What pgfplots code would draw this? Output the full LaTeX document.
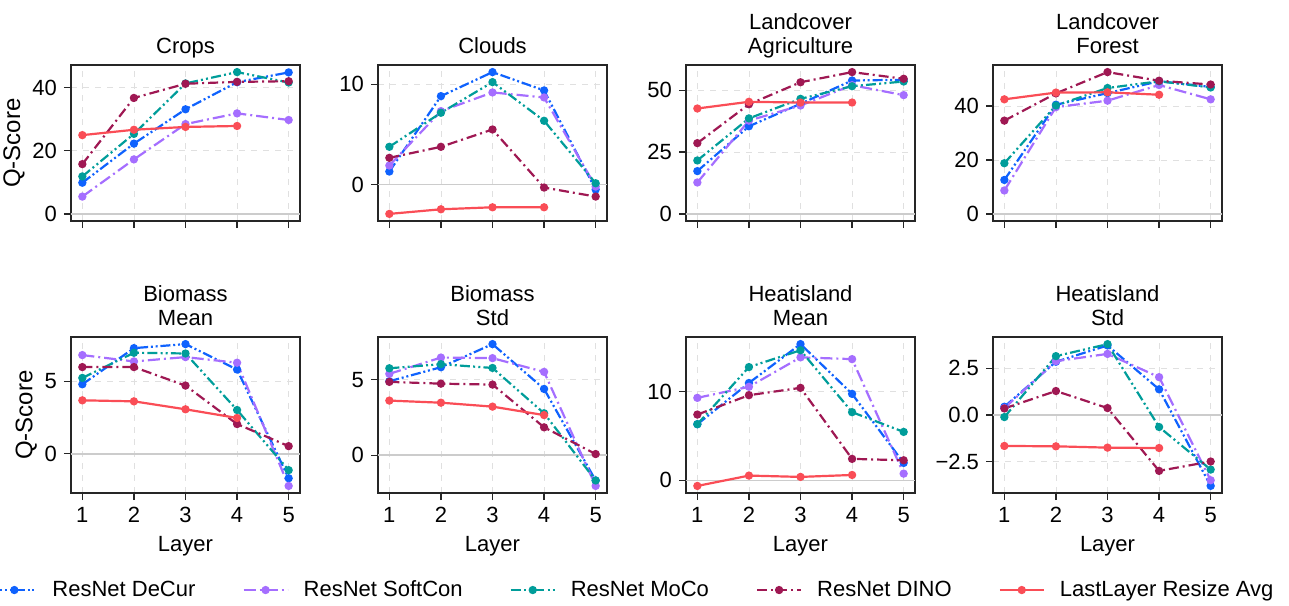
\documentclass[border=0pt]{standalone}
\usepackage{pgfplots}
\pgfplotsset{compat=1.18}
\usepackage{fontspec}
\setmainfont{Liberation Sans}
\definecolor{cDeCur}{HTML}{0F62FE}
\definecolor{cSoft}{HTML}{A56EFF}
\definecolor{cMoCo}{HTML}{009D9A}
\definecolor{cDINO}{HTML}{9F1853}
\definecolor{cLast}{HTML}{FA4D56}
\pgfplotsset{
  sdecur/.style={color=cDeCur, line width=1.1pt, dash pattern=on 5pt off 1.4pt on 1pt off 1.4pt on 1pt off 1.4pt, mark=*, mark size=1.5pt, mark options={solid}},
  ssoft/.style={color=cSoft, line width=1.1pt, dash pattern=on 6pt off 2pt on 1pt off 2pt, mark=*, mark size=1.5pt, mark options={solid}},
  smoco/.style={color=cMoCo, line width=1.1pt, dash pattern=on 5pt off 1.6pt on 1pt off 1.6pt on 1pt off 1.6pt, mark=*, mark size=1.5pt, mark options={solid}},
  sdino/.style={color=cDINO, line width=1.1pt, dash pattern=on 5pt off 2pt on 1pt off 2pt, mark=*, mark size=1.5pt, mark options={solid}},
  slast/.style={color=cLast, line width=1.1pt, solid, mark=*, mark size=1.5pt},
  myax/.style={scale only axis, width=114.5pt, height=78pt, anchor=north west,
    xmin=0.78, xmax=5.22, xtick={1,2,3,4,5},
    grid=major, grid style={dashed, black!12, line width=0.4pt},
    axis line style={black!85, line width=0.6pt},
    tick style={black!85, line width=0.6pt},
    tick align=outside, tick pos=left, major tick length=3.5pt,
    /pgf/number format/assume math mode=true,
    every axis title shift=0pt,
    title style={at={(0.5,1)}, anchor=south, yshift=-1.2pt, align=center, font=\fontsize{11}{12}\selectfont},
    ylabel style={font=\fontsize{12}{14}\selectfont}, ylabel shift=-3pt,
    legend image code/.code={\draw[mark repeat=2,mark phase=2] plot coordinates {(0pt,0pt) (11pt,0pt) (22pt,0pt)};},
  },
}
\newcommand{\zeroline}{\draw[black!20, line width=0.7pt] ({rel axis cs:0,0}|-{axis cs:1,0}) -- ({rel axis cs:1,0}|-{axis cs:1,0});}
\begin{document}
\begin{tikzpicture}[font=\fontsize{11}{13}\selectfont]
\useasboundingbox (0,0) rectangle (644.5pt,-302.5pt);
% Crops
\begin{axis}[myax, at={(35.5pt,-32.5pt)}, title={Crops\strut}, ymin=-2.25, ymax=47.25, ytick={0,20,40}, xticklabels={,,,,}, ylabel={Q-Score}]
\zeroline
\addplot[sdecur] coordinates {(1,9.9) (2,22.3) (3,33.2) (4,41.8) (5,44.9)};
\addplot[ssoft] coordinates {(1,5.5) (2,17.3) (3,28.5) (4,31.9) (5,29.8)};
\addplot[smoco] coordinates {(1,11.9) (2,25.4) (3,41.4) (4,45.0) (5,41.7)};
\addplot[sdino] coordinates {(1,15.8) (2,36.8) (3,41.3) (4,41.9) (5,42.1)};
\addplot[slast] coordinates {(1,25.0) (2,26.7) (3,27.6) (4,27.9)};
\end{axis}
% Clouds
\begin{axis}[myax, at={(189pt,-32.5pt)}, title={Clouds\strut}, ymin=-3.64, ymax=11.94, ytick={0,10}, xticklabels={,,,,}]
\zeroline
\addplot[sdecur] coordinates {(1,1.3) (2,8.83) (3,11.23) (4,9.4) (5,-0.5)};
\addplot[ssoft] coordinates {(1,1.9) (2,7.33) (3,9.2) (4,8.7) (5,-0.2)};
\addplot[smoco] coordinates {(1,3.77) (2,7.17) (3,10.23) (4,6.37) (5,0.13)};
\addplot[sdino] coordinates {(1,2.67) (2,3.77) (3,5.5) (4,-0.3) (5,-1.2)};
\addplot[slast] coordinates {(1,-2.93) (2,-2.47) (3,-2.27) (4,-2.27)};
\end{axis}
% Landcover Agriculture
\begin{axis}[myax, at={(343pt,-32.5pt)}, title={Landcover\\Agriculture\strut}, ymin=-2.87, ymax=60.17, ytick={0,25,50}, xticklabels={,,,,}]
\zeroline
\addplot[sdecur] coordinates {(1,17.3) (2,35.4) (3,44.5) (4,53.9) (5,54.2)};
\addplot[ssoft] coordinates {(1,12.7) (2,37.7) (3,43.8) (4,52.0) (5,48.0)};
\addplot[smoco] coordinates {(1,21.6) (2,38.6) (3,46.5) (4,51.6) (5,53.5)};
\addplot[sdino] coordinates {(1,28.6) (2,44.3) (3,53.2) (4,57.3) (5,54.6)};
\addplot[slast] coordinates {(1,42.6) (2,45.3) (3,45.0) (4,45.0)};
\end{axis}
% Landcover Forest
\begin{axis}[myax, at={(496.5pt,-32.5pt)}, title={Landcover\\Forest\strut}, ymin=-2.63, ymax=55.23, ytick={0,20,40}, xticklabels={,,,,}]
\zeroline
\addplot[sdecur] coordinates {(1,12.6) (2,40.5) (3,44.8) (4,49.2) (5,47.1)};
\addplot[ssoft] coordinates {(1,8.7) (2,39.6) (3,42.0) (4,47.8) (5,42.5)};
\addplot[smoco] coordinates {(1,18.8) (2,40.2) (3,46.7) (4,49.2) (5,46.9)};
\addplot[sdino] coordinates {(1,34.6) (2,44.7) (3,52.6) (4,49.4) (5,48.0)};
\addplot[slast] coordinates {(1,42.5) (2,45.0) (3,45.1) (4,44.2)};
\end{axis}
% Biomass Mean
\begin{axis}[myax, at={(35.5pt,-168.5pt)}, title={Biomass\\Mean\strut}, ymin=-2.71, ymax=8.08, ytick={0,5}, ylabel={Q-Score}, xlabel={Layer},
  legend columns=5, legend style={at={(2.46,-0.622)}, anchor=center, draw=none, fill=none, font=\fontsize{11}{13}\selectfont, /tikz/every even column/.append style={column sep=21.5pt}, /tikz/every odd column/.append style={column sep=5.5pt}}]
\zeroline
\addplot[sdecur] coordinates {(1,4.81) (2,7.31) (3,7.59) (4,5.83) (5,-1.69)};
\addplot[ssoft] coordinates {(1,6.83) (2,6.39) (3,6.69) (4,6.30) (5,-2.22)};
\addplot[smoco] coordinates {(1,5.25) (2,6.99) (3,6.94) (4,3.03) (5,-1.13)};
\addplot[sdino] coordinates {(1,6.0) (2,6.0) (3,4.72) (4,2.06) (5,0.53)};
\addplot[slast] coordinates {(1,3.70) (2,3.63) (3,3.08) (4,2.48)};
\legend{ResNet DeCur, ResNet SoftCon, ResNet MoCo, ResNet DINO, LastLayer Resize Avg}
\end{axis}
% Biomass Std
\begin{axis}[myax, at={(189pt,-168.5pt)}, title={Biomass\\Std\strut}, ymin=-2.51, ymax=7.82, ytick={0,5}, xlabel={Layer}]
\zeroline
\addplot[sdecur] coordinates {(1,4.89) (2,5.82) (3,7.35) (4,4.38) (5,-1.68)};
\addplot[ssoft] coordinates {(1,5.38) (2,6.46) (3,6.42) (4,5.51) (5,-2.04)};
\addplot[smoco] coordinates {(1,5.75) (2,6.02) (3,5.77) (4,2.77) (5,-1.68)};
\addplot[sdino] coordinates {(1,4.85) (2,4.73) (3,4.67) (4,1.84) (5,0.07)};
\addplot[slast] coordinates {(1,3.61) (2,3.47) (3,3.21) (4,2.65)};
\end{axis}
% Heatisland Mean
\begin{axis}[myax, at={(343pt,-168.5pt)}, title={Heatisland\\Mean\strut}, ymin=-1.44, ymax=16.2, ytick={0,10}, xlabel={Layer}]
\zeroline
\addplot[sdecur] coordinates {(1,6.34) (2,11.0) (3,15.4) (4,9.77) (5,1.96)};
\addplot[ssoft] coordinates {(1,9.32) (2,10.57) (3,13.9) (4,13.7) (5,0.75)};
\addplot[smoco] coordinates {(1,6.34) (2,12.8) (3,14.7) (4,7.70) (5,5.47)};
\addplot[sdino] coordinates {(1,7.43) (2,9.62) (3,10.45) (4,2.42) (5,2.26)};
\addplot[slast] coordinates {(1,-0.64) (2,0.53) (3,0.38) (4,0.60)};
\end{axis}
% Heatisland Std
\begin{axis}[myax, at={(496.5pt,-168.5pt)}, title={Heatisland\\Std\strut}, ymin=-4.16, ymax=4.16, ytick={-2.5,0,2.5}, yticklabels={−2.5,0.0,2.5}, xlabel={Layer}]
\zeroline
\addplot[sdecur] coordinates {(1,0.44) (2,2.84) (3,3.71) (4,1.37) (5,-3.78)};
\addplot[ssoft] coordinates {(1,0.37) (2,2.87) (3,3.26) (4,2.02) (5,-3.48)};
\addplot[smoco] coordinates {(1,-0.11) (2,3.14) (3,3.78) (4,-0.64) (5,-2.91)};
\addplot[sdino] coordinates {(1,0.35) (2,1.28) (3,0.37) (4,-2.98) (5,-2.48)};
\addplot[slast] coordinates {(1,-1.65) (2,-1.67) (3,-1.74) (4,-1.76)};
\end{axis}
\end{tikzpicture}
\end{document}
